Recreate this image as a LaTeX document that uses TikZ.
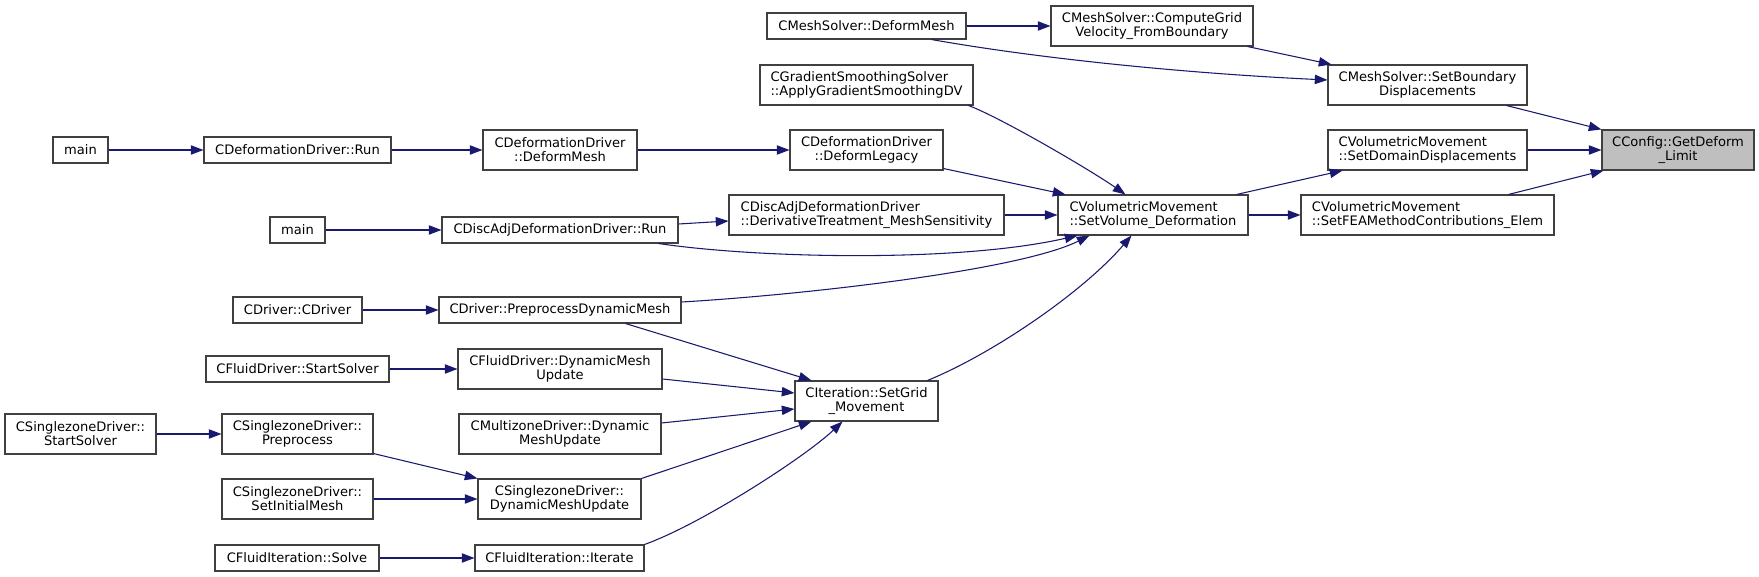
\documentclass[tikz,border=0pt]{standalone}
\usepackage{fontspec}
\setmainfont{DejaVu Sans}
\usetikzlibrary{arrows.meta,calc}
\definecolor{edgec}{RGB}{25,25,112}
\definecolor{boxc}{RGB}{64,64,64}
\definecolor{hl}{RGB}{191,191,191}
\tikzset{
  box/.style={draw=boxc,line width=0.8pt,fill=white,inner sep=0pt,align=center,
    font=\fontsize{9.8pt}{10.5pt}\selectfont},
  conn/.style={draw=edgec,line width=0.8pt,-{Triangle[length=9.5pt,width=7pt]}}
}
\newcommand\mynode[7][]{\node[box,#1,minimum width={(#5-#3)*0.75pt},minimum height={(#6-#4)*0.75pt}] (#2) at ({(#3+#5)/2},{(#4+#6)/2}) {#7};}
\begin{document}
\begin{tikzpicture}[x=0.75pt,y=-0.75pt]
\useasboundingbox[fill=white] (0,0) rectangle (1759,577);
% nodes
\mynode{m1}{53}{137}{108}{163}{main}
\mynode{dr}{204}{137}{391}{163}{CDeformationDriver::Run}
\mynode{ddm}{483}{130}{637}{170}{CDeformationDriver\\::DeformMesh}
\mynode{dl}{790}{130}{943}{170}{CDeformationDriver\\::DeformLegacy}
\mynode{m2}{270}{217}{325}{243}{main}
\mynode{dar}{442}{217}{678}{243}{CDiscAdjDeformationDriver::Run}
\mynode[align=left]{dt}{729}{195}{1004}{235}{CDiscAdjDeformationDriver\\::DerivativeTreatment\_MeshSensitivity}
\mynode{msdm}{767}{13}{966}{39}{CMeshSolver::DeformMesh}
\mynode{cg}{1051}{6}{1253}{46}{CMeshSolver::ComputeGrid\\Velocity\_FromBoundary}
\mynode[align=left]{gs}{760}{65}{973}{105}{CGradientSmoothingSolver\\::ApplyGradientSmoothingDV}
\mynode[align=left]{sv}{1058}{195}{1248}{235}{CVolumetricMovement\\::SetVolume\_Deformation}
\mynode{sb}{1328}{65}{1527}{105}{CMeshSolver::SetBoundary\\Displacements}
\mynode[align=left]{sd}{1328}{130}{1527}{170}{CVolumetricMovement\\::SetDomainDisplacements}
\mynode[align=left]{sf}{1301}{195}{1554}{235}{CVolumetricMovement\\::SetFEAMethodContributions\_Elem}
\mynode[fill=hl]{cc}{1602}{130}{1754}{170}{CConfig::GetDeform\\\_Limit}
\mynode{cdc}{233}{297}{362}{323}{CDriver::CDriver}
\mynode{pdm}{439}{297}{681}{323}{CDriver::PreprocessDynamicMesh}
\mynode{fss}{206}{356}{389}{382}{CFluidDriver::StartSolver}
\mynode{fdm}{458}{349}{662}{389}{CFluidDriver::DynamicMesh\\Update}
\mynode{szss}{5}{414}{156}{454}{CSinglezoneDriver::\\StartSolver}
\mynode{szp}{222}{414}{373}{454}{CSinglezoneDriver::\\Preprocess}
\mynode{mz}{459}{414}{661}{454}{CMultizoneDriver::Dynamic\\MeshUpdate}
\mynode{szim}{222}{479}{373}{519}{CSinglezoneDriver::\\SetInitialMesh}
\mynode{szdm}{478}{479}{641}{519}{CSinglezoneDriver::\\DynamicMeshUpdate}
\mynode{fis}{215}{545}{379}{571}{CFluidIteration::Solve}
\mynode{fii}{475}{545}{644}{571}{CFluidIteration::Iterate}
\mynode{sg}{795}{381}{938}{421}{CIteration::SetGrid\\\_Movement}
% edges
\draw[conn] (m1.east) -- (dr.west);
\draw[conn] (dr.east) -- (ddm.west);
\draw[conn] (ddm.east) -- (dl.west);
\draw[conn] ($(dl.south east)+(0,-2)$) -- ($(sv.north west)+(8,0)$);
\draw[conn] ($(gs.south east)+(-5,0)$) .. controls +(32,12) and +(-36,-25) .. ($(sv.north west)+(68,0)$);
\draw[conn] (dt.east) -- (sv.west);
\draw[conn] ($(dar.east)+(0,-6)$) -- ($(dt.west)+(0,6)$);
\draw[conn] (m2.east) -- (dar.west);
\draw[conn] ($(dar.south east)+(-20,0)$) .. controls +(102,15) and +(-118,27) .. ($(sv.south west)+(20,0)$);
\draw[conn] ($(pdm.east)+(0,-8)$) .. controls +(120,-7) and +(-70,35) .. ($(sv.south west)+(32,0)$);
\draw[conn] ($(sg.north east)+(-11,0)$) .. controls +(68,-28) and +(-47,55) .. ($(sv.south west)+(74,0)$);
\draw[conn] ($(sv.north east)+(-12,0)$) -- ($(sd.south west)+(15,0)$);
\draw[conn] (sv.east) -- (sf.west);
\draw[conn] (sd.east) -- (cc.west);
\draw[conn] ($(sb.south east)+(-21,0)$) -- (cc.north west);
\draw[conn] ($(sf.north east)+(-46,0)$) -- ($(cc.south west)+(2,0)$);
\draw[conn] ($(cg.south east)+(-6,0)$) -- ($(sb.north west)+(4,0)$);
\draw[conn] (msdm.east) -- (cg.west);
\draw[conn] ($(msdm.south east)+(-35,0)$) .. controls +(119,21) and +(-128,-6) .. ($(sb.west)+(0,-5)$);
\draw[conn] (cdc.east) -- (pdm.west);
\draw[conn] (fss.east) -- (fdm.west);
\draw[conn] (szss.east) -- (szp.west);
\draw[conn] ($(szp.south east)+(0,-1)$) -- (szdm.north west);
\draw[conn] (szim.east) -- (szdm.west);
\draw[conn] (fis.east) -- (fii.west);
\draw[conn] ($(pdm.south east)+(-56,0)$) -- ($(sg.north west)+(17,0)$);
\draw[conn] ($(fdm.east)+(0,10)$) -- ($(sg.west)+(0,-8)$);
\draw[conn] ($(mz.east)+(0,-11)$) -- ($(sg.west)+(0,8)$);
\draw[conn] (szdm.north east) -- ($(sg.south west)+(17,0)$);
\draw[conn] (fii.north east) .. controls +(56,-20) and +(-38,36) .. ($(sg.south west)+(48,0)$);
\end{tikzpicture}
\end{document}
